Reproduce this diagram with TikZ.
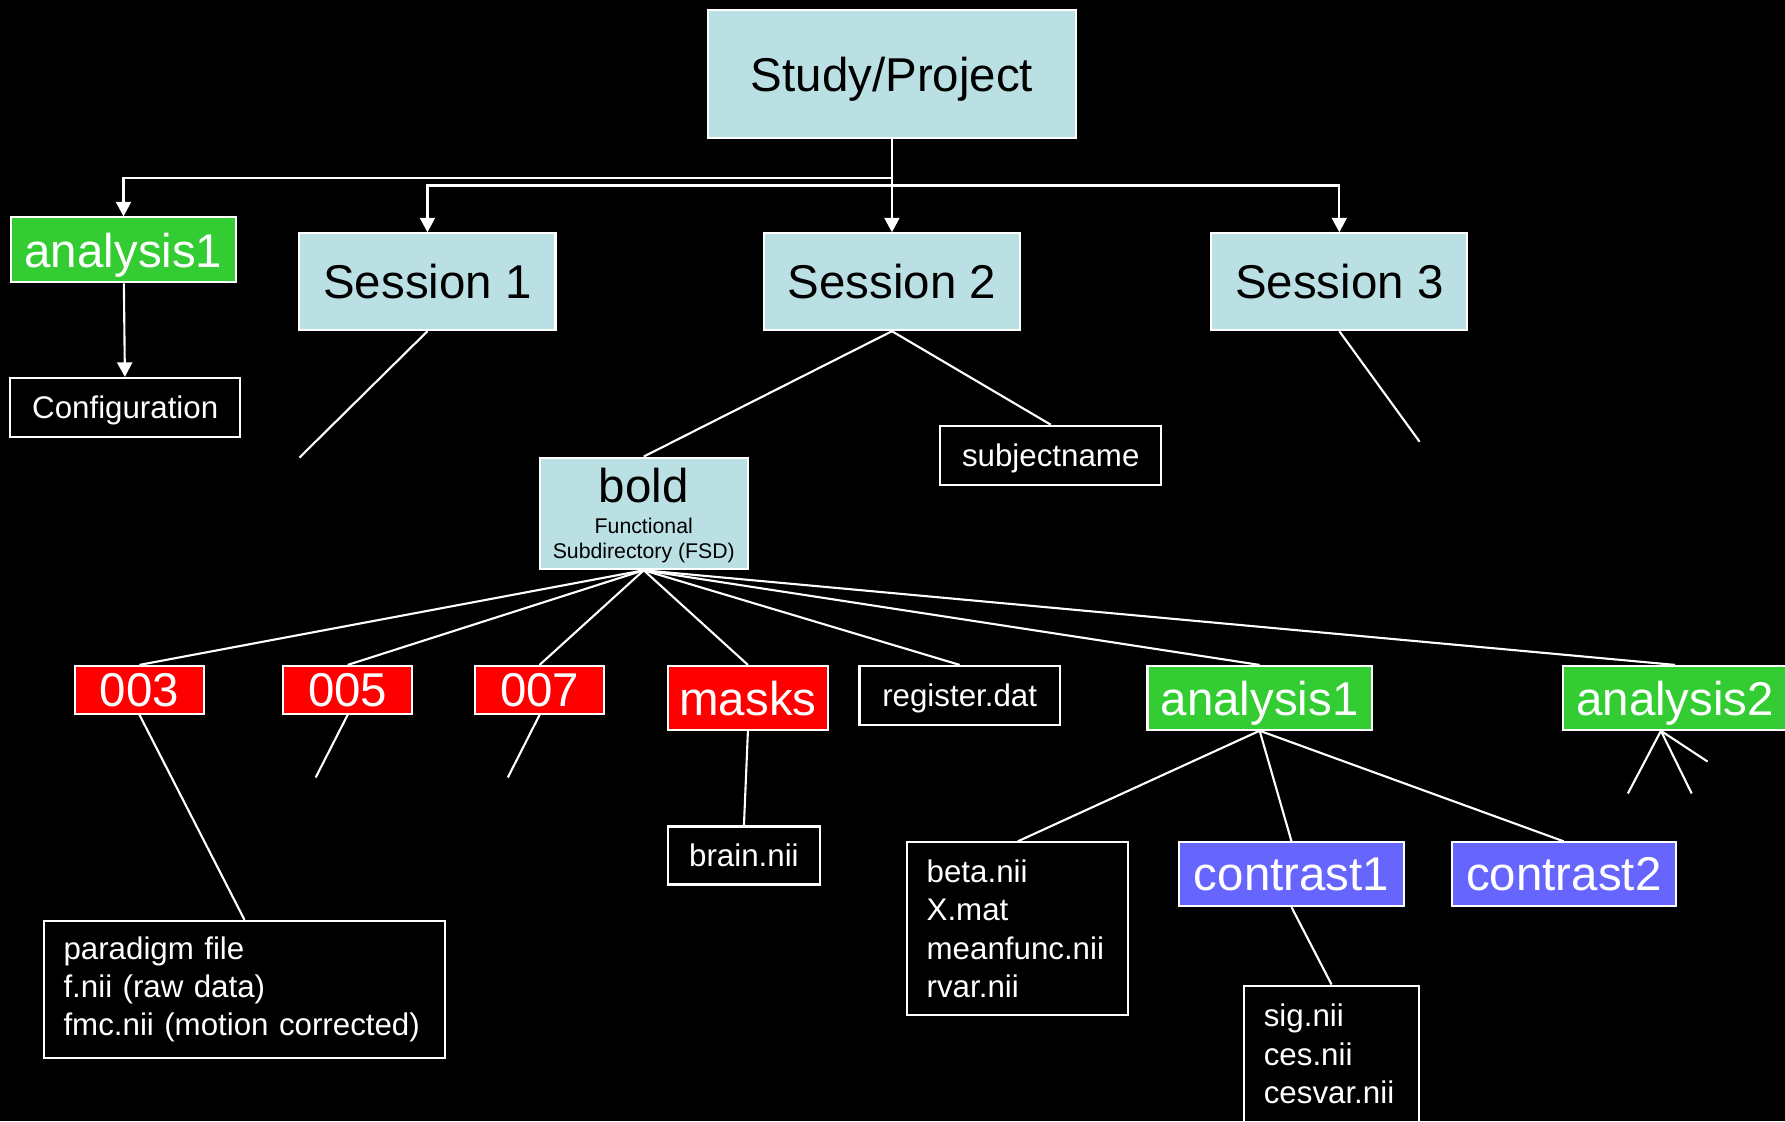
\documentclass[tikz,border=0pt]{standalone}
\usepackage{fontspec}
\setmainfont{Liberation Sans}
\usetikzlibrary{arrows.meta}
\definecolor{dirB}{RGB}{187,224,227}
\definecolor{anaG}{RGB}{51,204,51}
\definecolor{runR}{RGB}{255,0,0}
\definecolor{conP}{RGB}{102,102,255}

\begin{document}
\begin{tikzpicture}[x=0.11384mm, y=-0.11384mm, line width=0.6pt, color=white,
  >={Triangle[length=1.45mm,width=1.5mm]},
  bigfont/.style={font=\fontsize{13.5pt}{16pt}\selectfont},
  smallfont/.style={font=\fontsize{8.9pt}{10.9pt}\selectfont},
  nodebox/.style={draw=white, inner sep=0pt, text depth=0pt},
  dirbox/.style={nodebox, fill=dirB, text=black},
  sessbox/.style={dirbox, bigfont, minimum width=25.61mm, minimum height=9.68mm},
  anabox/.style={nodebox, bigfont, fill=anaG, text=white, minimum width=22.43mm, minimum height=6.37mm},
  runbox/.style={nodebox, bigfont, fill=runR, text=white, minimum width=12.86mm, minimum height=4.78mm},
  conbox/.style={nodebox, bigfont, fill=conP, text=white, minimum width=22.43mm, minimum height=6.37mm},
  filebox/.style={nodebox, smallfont, fill=black, text=white, minimum height=5.92mm},
  filelist/.style={draw=white, smallfont, fill=black, text=white, align=left,
                   inner xsep=1.94mm, inner ysep=0pt}]
  \path[use as bounding box, fill=black] (0,0) rectangle (1568,985);

  % top levels
  \node[dirbox, bigfont, minimum width=36.77mm, minimum height=12.75mm] (study) at (783.5,65) {Study/Project};
  \node[anabox, minimum height=6.49mm] (topana) at (108.5,219.5) {analysis1};
  \node[filebox, minimum width=23mm] (config) at (110,358) {Configuration};
  \node[sessbox] (sess1) at (375.5,247.5) {Session 1};
  \node[sessbox] (sess2) at (783.5,247.5) {Session 2};
  \node[sessbox] (sess3) at (1176.5,247.5) {Session 3};
  \node[filebox, minimum width=22.09mm] (subj) at (923,400) {subjectname};
  \node[dirbox, align=center, font=\fontsize{6.05pt}{7.1pt}\selectfont, text depth=-2pt,
        minimum width=20.83mm, minimum height=11.16mm] (bold) at (565.5,451)
      {{\fontsize{13.5pt}{16pt}\selectfont bold}\\[1.6pt]Functional\\Subdirectory (FSD)};

  % inside bold
  \node[runbox] (r003) at (122.5,606) {003};
  \node[runbox] (r005) at (305.4,606) {005};
  \node[runbox] (r007) at (474,606) {007};
  \node[nodebox, bigfont, fill=runR, minimum width=15.94mm, minimum height=6.37mm] (masks) at (657,613) {masks};
  \node[filebox, minimum width=20.04mm] (reg) at (843,611) {register.dat};
  \node[anabox] (ana1) at (1106.5,613) {analysis1};
  \node[anabox] (ana2) at (1471.5,613) {analysis2};

  % leaves
  \node[filebox, minimum width=15.14mm, minimum height=5.81mm] (brain) at (653.5,751.5) {brain.nii};
  \node[filelist, text width=36.2mm, minimum height=13.66mm] (para) at (214.8,869)
      {paradigm file\\f.nii (raw data)\\fmc.nii (motion corrected)};
  \node[filelist, text width=18.21mm, minimum height=17.3mm] (beta) at (894,816)
      {beta.nii\\X.mat\\meanfunc.nii\\rvar.nii};
  \node[conbox] (con1) at (1134.5,768) {contrast1};
  \node[conbox] (con2) at (1373.7,768) {contrast2};
  \node[filelist, text width=13.55mm, minimum height=13.66mm] (sig) at (1169.7,925.8)
      {sig.nii\\ces.nii\\cesvar.nii};

  % free ends
  \coordinate (busL) at (783.5,156.5);
  \coordinate (busR) at (783.5,163);
  \coordinate (s1end) at (263,402);
  \coordinate (s3end) at (1247,388);
  \coordinate (r005end) at (277.3,683);
  \coordinate (r007end) at (446.1,683);
  \coordinate (a2root) at (1459,642);
  \coordinate (a2endA) at (1430,697);
  \coordinate (a2endB) at (1486,697);
  \coordinate (a2endC) at (1500,669);

  % arrows
  \draw[->] (study) -- (sess2);
  \draw[->] (busL) -| (topana);
  \draw[->] (busR) -| (sess1);
  \draw[->] (busR) -| (sess3);
  \draw[->] (topana) -- (config);

  % tree lines
  \draw (sess1.south) -- (s1end);
  \draw (sess3.south) -- (s3end);
  \draw (sess2.south) -- (bold.north);
  \draw (sess2.south) -- (subj.north);
  \foreach \n in {r003,r005,r007,masks,reg,ana1,ana2}
    \draw (bold.south) -- (\n.north);
  \draw (r003.south) -- (para.north);
  \draw (r005.south) -- (r005end);
  \draw (r007.south) -- (r007end);
  \draw (masks.south) -- (brain.north);
  \foreach \n in {beta,con1,con2}
    \draw (ana1.south) -- (\n.north);
  \draw (con1.south) -- (sig.north);
  \foreach \e in {a2endA,a2endB,a2endC}
    \draw (a2root) -- (\e);
\end{tikzpicture}
\end{document}
